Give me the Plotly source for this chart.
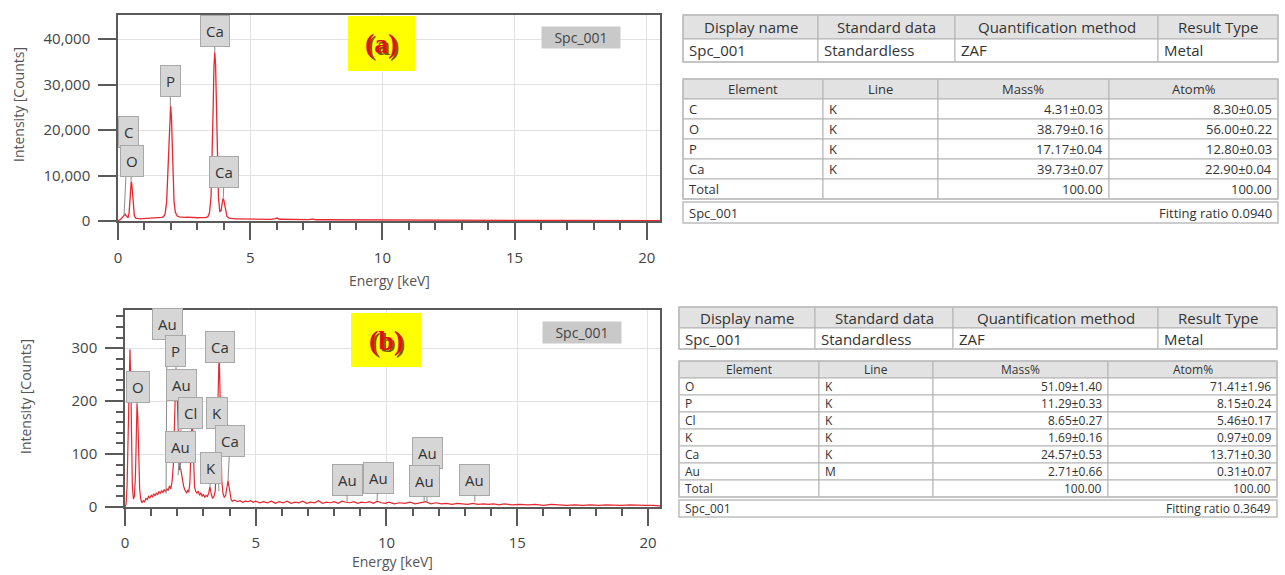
import plotly.graph_objects as go

# ---------------- data ----------------
energy_a = [0.00,0.05,0.10,0.15,0.20,0.24,0.27,0.30,0.34,0.38,0.42,0.45,0.48,0.50,0.52,0.55,0.58,0.62,0.67,0.75,
            0.85,0.95,1.05,1.15,1.25,1.35,1.45,1.55,1.65,1.72,1.78,1.84,1.89,1.93,1.96,1.99,2.02,2.05,2.08,2.12,
            2.17,2.24,2.32,2.42,2.52,2.62,2.72,2.82,2.92,3.02,3.12,3.22,3.32,3.40,3.46,3.52,3.56,3.60,3.63,3.66,
            3.69,3.72,3.76,3.80,3.85,3.90,3.94,3.97,4.00,4.03,4.07,4.12,4.20,4.30,4.45,4.60,4.80,5.00,5.20,5.40,
            5.60,5.80,5.95,6.02,6.10,6.30,6.60,6.90,7.20,7.35,7.50,7.80,8.10,8.50,9.00,9.50,10.0,10.5,11.0,11.5,
            12.0,12.5,13.0,13.5,14.0,14.5,15.0,15.5,16.0,16.5,17.0,17.5,18.0,18.5,19.0,19.5,20.0,20.5]
counts_a = [0,150,400,700,1000,1300,1500,1200,800,700,1800,4500,7800,8600,8200,5600,2600,1100,650,520,
            480,510,530,560,600,640,690,730,800,950,1500,4200,11000,19500,24200,25300,23000,16500,9500,4200,
            1900,1100,900,820,800,840,780,760,740,720,730,700,760,950,1800,5500,13000,25000,34000,37100,
            34500,25000,12500,5000,2100,2300,3900,4800,4700,3600,2000,1000,640,520,480,450,430,410,390,380,
            370,360,520,650,380,340,320,300,290,420,280,270,260,250,240,230,220,210,200,190,
            180,175,170,160,150,145,140,135,130,125,120,115,110,105,120,90,110,80]

energy_b = [0.00,0.04,0.08,0.12,0.16,0.19,0.22,0.25,0.28,0.32,0.36,0.40,0.43,0.46,0.49,0.52,0.56,0.60,0.65,0.70,
            0.75,0.80,0.85,0.90,0.95,1.00,1.05,1.10,1.15,1.20,1.25,1.30,1.35,1.40,1.45,1.50,1.55,1.60,1.65,1.70,
            1.75,1.80,1.85,1.89,1.92,1.95,1.98,2.01,2.04,2.08,2.12,2.16,2.20,2.24,2.28,2.32,2.36,2.40,2.44,2.48,
            2.52,2.56,2.59,2.62,2.66,2.70,2.75,2.80,2.85,2.90,2.95,3.00,3.05,3.10,3.15,3.20,3.25,3.30,3.35,3.40,
            3.45,3.50,3.54,3.57,3.60,3.63,3.66,3.70,3.75,3.80,3.85,3.90,3.94,3.98,4.02,4.06,4.10,4.20,4.30,4.40,
            4.50,4.60,4.70,4.80,4.90,5.00,5.15,5.30,5.45,5.60,5.75,5.90,6.05,6.20,6.35,6.50,6.65,6.80,6.95,7.10,
            7.25,7.40,7.55,7.70,7.85,8.00,8.15,8.30,8.45,8.60,8.75,8.90,9.05,9.20,9.35,9.50,9.65,9.80,9.95,10.1,
            10.3,10.5,10.7,10.9,11.1,11.3,11.5,11.7,11.9,12.1,12.3,12.5,12.7,12.9,13.1,13.3,13.5,13.7,13.9,14.1,
            14.3,14.5,14.8,15.1,15.4,15.7,16.0,16.3,16.6,16.9,17.2,17.5,17.8,18.1,18.4,18.7,19.0,19.3,19.6,19.9,
            20.2,20.5]
counts_b = [0,5,40,160,270,298,240,120,40,15,20,60,140,196,170,95,35,15,8,12,
            10,16,14,20,17,22,19,25,21,27,23,29,26,31,27,33,29,35,31,40,
            34,48,80,150,230,262,240,170,100,70,75,60,48,40,33,30,26,32,28,45,
            90,158,140,80,38,30,26,30,22,27,20,24,18,22,20,26,38,24,16,20,
            30,80,180,260,292,230,120,50,25,18,22,35,50,38,20,14,11,13,10,12,
            9,11,10,12,9,11,8,10,8,11,7,10,8,11,7,9,8,11,7,9,
            8,12,7,9,8,10,7,11,9,8,10,7,9,8,10,7,11,8,7,9,
            6,8,7,9,6,8,10,6,8,6,7,5,7,6,5,7,5,6,5,6,
            4,6,4,5,4,5,3,5,4,3,4,3,4,3,4,3,3,4,3,3,
            3,2]

# peak labels: text, energy (keV), counts at the marker
labels_a_text = ["C", "O", "P", "Ca", "Ca"]
labels_a_x = [0.23, 0.49, 1.98, 3.66, 3.98]
labels_a_y = [1300, 8600, 25300, 37100, 4800]

labels_b_text = ["Au", "P", "Au", "O", "Cl", "K", "Ca", "Ca", "Au", "K", "Au", "Au", "Au", "Au", "Au"]
labels_b_x = [1.57, 1.95, 2.12, 0.46, 2.56, 3.59, 3.60, 3.94, 2.03, 3.25, 8.49, 9.64, 11.55, 11.44, 13.38]
labels_b_y = [25, 262, 70, 196, 158, 30, 292, 50, 60, 38, 10, 12, 10, 10, 10]

x_ticks = [0, 5, 10, 15, 20]

# tables
info_header = ["Display name", "Standard data", "Quantification method", "Result Type"]
info_row = ["Spc_001", "Standardless", "ZAF", "Metal"]
elem_header = ["Element", "Line", "Mass%", "Atom%"]
elements_a = ["C", "O", "P", "Ca", "Total"]
lines_a = ["K", "K", "K", "K", ""]
mass_a = ["4.31±0.03", "38.79±0.16", "17.17±0.04", "39.73±0.07", "100.00"]
atom_a = ["8.30±0.05", "56.00±0.22", "12.80±0.03", "22.90±0.04", "100.00"]
fit_a = "Fitting ratio 0.0940"
elements_b = ["O", "P", "Cl", "K", "Ca", "Au", "Total"]
lines_b = ["K", "K", "K", "K", "K", "M", ""]
mass_b = ["51.09±1.40", "11.29±0.33", "8.65±0.27", "1.69±0.16", "24.57±0.53", "2.71±0.66", "100.00"]
atom_b = ["71.41±1.96", "8.15±0.24", "5.46±0.17", "0.97±0.09", "13.71±0.30", "0.31±0.07", "100.00"]
fit_b = "Fitting ratio 0.3649"
spectrum_name = "Spc_001"

# ---------------- layout helpers ----------------
W, H = 1285, 575
FONT = "Open Sans"
TXT = "#333333"


def px(x):
    return x / W


def py(y):
    return 1 - y / H


fig = go.Figure()
RED = "rgba(228,22,32,0.92)"
fig.add_trace(go.Scatter(x=energy_a, y=counts_a, mode="lines", line=dict(color=RED, width=1.3),
                         xaxis="x", yaxis="y", showlegend=False, hoverinfo="skip"))
fig.add_trace(go.Scatter(x=energy_b, y=counts_b, mode="lines", line=dict(color=RED, width=1.2),
                         xaxis="x2", yaxis="y2", showlegend=False, hoverinfo="skip"))

AX = "#5a5a5a"
GRID = "#e2e2e2"
tickfont = dict(family=FONT, size=15, color="#444444")


def xaxis_style(domain, rng, anchor, standoff):
    return dict(domain=domain, range=rng, anchor=anchor, tickvals=x_ticks, ticks="outside", ticklen=17,
                tickwidth=1.5, tickcolor=AX, showline=True, linecolor=AX, linewidth=1.5, mirror=True,
                showgrid=True, gridcolor=GRID, zeroline=False, tickfont=tickfont, ticklabelstandoff=standoff,
                minor=dict(dtick=1, ticks="outside", ticklen=7, tickwidth=1.5, tickcolor=AX, showgrid=False),
                automargin=False, fixedrange=True)


def yaxis_style(domain, rng, anchor, dtick, minor_dtick=None, fmt=None):
    d = dict(domain=domain, range=rng, anchor=anchor, dtick=dtick, ticks="outside", ticklen=18,
             tickwidth=1.5, tickcolor=AX, showline=True, linecolor=AX, linewidth=1.5, mirror=True,
             showgrid=True, gridcolor=GRID, zeroline=False, tickfont=tickfont, ticklabelstandoff=5,
             automargin=False, fixedrange=True)
    if fmt:
        d["tickformat"] = fmt
    if minor_dtick:
        d["minor"] = dict(dtick=minor_dtick, ticks="outside", ticklen=7, tickwidth=1.5, tickcolor=AX,
                          showgrid=False)
    return d


fig.update_layout(
    width=W, height=H, margin=dict(l=0, r=0, t=0, b=0),
    paper_bgcolor="white", plot_bgcolor="white", showlegend=False,
    font=dict(family=FONT, color=TXT),
    xaxis=xaxis_style([px(118), px(660)], [0, 20.5], "y", 5),
    yaxis=yaxis_style([py(221), py(15)], [0, 45300], "x", 10000, fmt=",d"),
    xaxis2=xaxis_style([px(125), px(660)], [0, 20.46], "y2", 4),
    yaxis2=yaxis_style([py(507), py(310)], [0, 372], "x2", 100, minor_dtick=20),
)

annotations = []
shapes = []


def paper_text(x, y, text, size, color=TXT, family=FONT, angle=0, xa="center", **kw):
    annotations.append(dict(x=px(x), y=py(y), xref="paper", yref="paper", text=text, textangle=angle,
                            xanchor=xa, yanchor="middle", showarrow=False,
                            font=dict(family=family, size=size, color=color), **kw))


# axis titles
for (x, y) in [(18, 105), (25, 397)]:
    paper_text(x, y, "Intensity [Counts]", 14, "#555555", angle=-90)
for (x, y) in [(389, 280), (392, 561)]:
    paper_text(x, y, "Energy [keV]", 14, "#555555")

# peak labels
lab_style = dict(showarrow=True, arrowhead=0, arrowwidth=1, arrowcolor="#8c8c8c", bgcolor="#d6d6d6",
                 bordercolor="#a8a8a8", borderwidth=1, borderpad=5, font=dict(family=FONT, size=15, color=TXT),
                 axref="pixel", ayref="pixel")
offs_a = [(4, -83), (1, -21), (0, -25), (0, -21), (1, -27)]
for t, x, y, (ax, ay) in zip(labels_a_text, labels_a_x, labels_a_y, offs_a):
    annotations.append(dict(x=x, y=y, xref="x", yref="y", text=t, ax=ax, ay=ay, **lab_style))
offs_b = [(1, -170), (0, -17), (1, -85), (1, -16), (-1, -10), (-2, -78), (1, -5), (2, -40), (2, -28),
          (1, -19), (0, -22), (1, -23), (0, -49), (0, -21), (0, -22)]
for t, x, y, (ax, ay) in zip(labels_b_text, labels_b_x, labels_b_y, offs_b):
    annotations.append(dict(x=x, y=y, xref="x2", yref="y2", text=t, ax=ax, ay=ay, **lab_style))

# spectrum name boxes
for (cx, cy) in [(581, 37.5), (582, 332)]:
    paper_text(cx, cy, spectrum_name, 14, "#444444", bgcolor="#c9c9c9", borderpad=2, width=74, height=17)

# (a) / (b) yellow tags
for (x0, y0, x1, y1, tag) in [(348, 16, 415, 71, "(a)"), (351, 313, 421, 367, "(b)")]:
    shapes.append(dict(type="rect", xref="paper", yref="paper", x0=px(x0), x1=px(x1), y0=py(y1), y1=py(y0),
                       fillcolor="#ffff00", line=dict(width=0), layer="above"))
    cx, cy = (x0 + x1) / 2, (y0 + y1) / 2
    paper_text(cx + 2, cy + 2, "<b>%s</b>" % tag, 28, "#7a5a10", family="Liberation Serif")
    paper_text(cx, cy, "<b>%s</b>" % tag, 28, "#e01010", family="Liberation Serif")

# tables
LINE = "#b2b2b2"
HEAD = "#e2e2e2"


def cell_text(text, e0, e1, top, bot, align, size):
    if not text:
        return
    if align == "left":
        x = e0 + 4
    elif align == "right":
        x = e1 - 4
    else:
        x = (e0 + e1) / 2
    paper_text(x, (top + bot) / 2, text, size, xa=align)


def rect(e0, e1, top, bot, fill, width=1, color=LINE):
    shapes.append(dict(type="rect", xref="paper", yref="paper", x0=px(e0), x1=px(e1), y0=py(bot), y1=py(top),
                       fillcolor=fill, line=dict(color=color, width=width), layer="below"))


def draw_table(edges, header, rows, top, header_h, row_h, aligns, hsize, bsize):
    y = top
    for i in range(len(header)):
        rect(edges[i], edges[i + 1], y, y + header_h, HEAD)
        cell_text(header[i], edges[i], edges[i + 1], y, y + header_h, "center", hsize)
    y += header_h
    for r in rows:
        for i in range(len(r)):
            rect(edges[i], edges[i + 1], y, y + row_h, "white")
            cell_text(r[i], edges[i], edges[i + 1], y, y + row_h, aligns[i], bsize)
        y += row_h
    rect(edges[0], edges[-1], top, y, "rgba(0,0,0,0)", 1.5, "#bdbdbd")
    return y


def fit_row(edges, top, h, right_text, size):
    rect(edges[0], edges[-1], top, top + h, "white", 1.5, "#bdbdbd")
    cell_text(spectrum_name, edges[0], edges[-1], top, top + h, "left", size)
    cell_text(right_text, edges[0], edges[-1], top, top + h, "right", size)


# table (a)
draw_table([683, 818, 955, 1158, 1278], info_header, [info_row], 15, 24, 23,
           ["left"] * 4, 15, 15)
bot = draw_table([683, 823, 938, 1109, 1278], elem_header,
                 list(zip(elements_a, lines_a, mass_a, atom_a)), 79, 20, 20,
                 ["left", "left", "right", "right"], 13, 13)
fit_row([683, 1278], bot + 3, 21, fit_a, 13)

# table (b)
draw_table([679, 815, 953, 1158, 1277], info_header, [info_row], 307, 21, 21,
           ["left"] * 4, 15, 15)
bot = draw_table([679, 819, 933, 1108, 1277], elem_header,
                 list(zip(elements_b, lines_b, mass_b, atom_b)), 361, 17, 17,
                 ["left", "left", "right", "right"], 12, 12)
fit_row([679, 1277], bot + 3, 17, fit_b, 12)

fig.update_layout(annotations=annotations, shapes=shapes)
fig.write_html("out.html", config={"displayModeBar": False},
               post_script="document.body.style.margin='0';document.body.style.overflow='hidden';")
